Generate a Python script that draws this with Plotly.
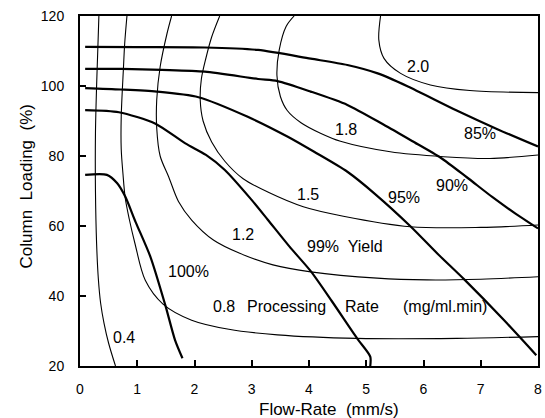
import plotly.graph_objects as go

# ---- Processing-rate contours (mg/ml.min), thin lines ----
rate_04_x = [0.33, 0.31, 0.29, 0.27, 0.27, 0.29, 0.32, 0.36, 0.42, 0.50, 0.62]
rate_04_y = [120, 110, 100, 86.5, 70, 55, 45, 38, 32.2, 26.5, 20]

rate_08_x = [0.82, 0.78, 0.76, 0.72, 0.72, 0.75, 0.79, 0.86, 0.96, 1.14, 1.45, 1.95, 2.60, 3.45, 4.84, 6.58, 8.0]
rate_08_y = [120, 112, 105.5, 91.2, 82, 75, 68, 62, 55, 44.5, 37.7, 33.1, 30.5, 28.9, 27.9, 27.9, 28.4]

rate_12_x = [1.60, 1.52, 1.40, 1.34, 1.34, 1.40, 1.55, 1.72, 1.95, 2.33, 2.79, 3.37, 4.03, 5.19, 6.06, 7.0, 8.0]
rate_12_y = [120, 115, 105.5, 96, 88, 80, 74, 67, 61.7, 56, 52.2, 48.9, 46.9, 45.1, 44.6, 44.8, 45.5]

rate_15_x = [2.44, 2.30, 2.20, 2.12, 2.10, 2.15, 2.30, 2.53, 2.85, 3.28, 3.90, 4.60, 5.77, 7.0, 8.0]
rate_15_y = [120, 114, 108, 102, 96, 90, 84, 78.5, 73.5, 69.7, 65.5, 62.8, 59.8, 59.6, 60.3]

rate_18_x = [3.74, 3.60, 3.48, 3.44, 3.50, 3.62, 3.86, 4.20, 4.55, 5.42, 6.35, 7.16, 8.0]
rate_18_y = [120, 117, 110.3, 103, 97, 93, 89.5, 86.5, 84.2, 81.2, 79.8, 79.3, 80.3]

rate_20_x = [5.25, 5.22, 5.31, 5.60, 6.12, 6.81, 8.0]
rate_20_y = [120, 113.1, 107.9, 103.6, 100.3, 98.7, 98.1]

# ---- Yield curves, thick lines ----
yield_100_x = [0.09, 0.47, 0.65, 0.79, 0.97, 1.23, 1.49, 1.66, 1.79]
yield_100_y = [74.6, 74.6, 72.2, 68.4, 61.2, 51.2, 37.4, 27.4, 22.2]

yield_99_x = [0.09, 0.68, 1.31, 1.84, 2.20, 2.53, 2.99, 3.28, 3.66, 4.03, 4.40, 4.84, 5.07, 5.07]
yield_99_y = [93.1, 92.5, 89.3, 83.6, 80.3, 76.0, 67.6, 61.8, 54.1, 47.1, 38.5, 27.9, 22.7, 20]

yield_95_x = [0.09, 0.71, 1.34, 2.07, 2.93, 3.63, 4.09, 4.67, 5.15, 5.78, 6.25, 6.72, 7.40, 7.97]
yield_95_y = [99.4, 99.0, 98.4, 96.8, 91.2, 85.5, 81.2, 75.5, 69.2, 59.8, 52.0, 44.6, 33.2, 23.1]

yield_90_x = [0.09, 0.73, 1.43, 2.18, 3.11, 3.45, 4.03, 4.67, 5.30, 5.80, 6.30, 6.75, 7.20, 7.60, 8.0]
yield_90_y = [104.9, 104.9, 104.6, 104.1, 102.0, 101.4, 98.4, 94.6, 89.0, 84.3, 79.5, 74.0, 68.3, 63.6, 59.3]

yield_85_x = [0.09, 1.0, 2.18, 3.11, 4.03, 4.67, 5.20, 5.71, 6.58, 7.30, 8.0]
yield_85_y = [111.2, 111.1, 111.0, 110.3, 107.8, 106.0, 103.6, 100.0, 93.0, 87.6, 82.7]

# ---- Curve labels ----
label_text = ["2.0", "1.8", "85%", "90%", "95%", "1.5", "1.2", "99%  Yield", "100%", "0.4"]
label_x = [5.90, 4.64, 6.99, 6.50, 5.66, 3.98, 2.84, 4.62, 1.90, 0.77]
label_y = [105.7, 87.7, 86.3, 71.7, 68.1, 69.1, 57.7, 54.1, 46.9, 28.1]

rate_words = ["0.8", "Processing", "Rate", "(mg/ml.min)"]
rate_words_x = [2.28, 2.885, 4.59, 5.60]
rate_words_y = [36.9, 36.9, 36.9, 36.9]

x_ticks = [0, 1, 2, 3, 4, 5, 6, 7, 8]
y_ticks = [20, 40, 60, 80, 100, 120]

FONT = "Liberation Sans, Arial, Helvetica, sans-serif"

fig = go.Figure()

thin = [(rate_04_x, rate_04_y), (rate_08_x, rate_08_y), (rate_12_x, rate_12_y),
        (rate_15_x, rate_15_y), (rate_18_x, rate_18_y), (rate_20_x, rate_20_y)]
thick = [(yield_100_x, yield_100_y), (yield_99_x, yield_99_y), (yield_95_x, yield_95_y),
         (yield_90_x, yield_90_y), (yield_85_x, yield_85_y)]

for xs, ys in thin:
    fig.add_trace(go.Scatter(x=xs, y=ys, mode="lines", showlegend=False,
                             line=dict(color="black", width=1.1, shape="spline", smoothing=0.9),
                             hoverinfo="skip"))
for xs, ys in thick:
    fig.add_trace(go.Scatter(x=xs, y=ys, mode="lines", showlegend=False,
                             line=dict(color="black", width=2.2, shape="spline", smoothing=0.7),
                             hoverinfo="skip"))

annotations = []
for t, x, y in zip(label_text, label_x, label_y):
    annotations.append(dict(x=x, y=y, text=t, showarrow=False, xref="x", yref="y",
                            font=dict(family=FONT, size=16, color="black")))
for t, x, y in zip(rate_words, rate_words_x, rate_words_y):
    annotations.append(dict(x=x, y=y, text=t, showarrow=False, xref="x", yref="y",
                            xanchor="left", font=dict(family=FONT, size=16, color="black")))

W, H = 545, 418
ml, mr, mt, mb = 80, 3, 16, 52
pw, ph = W - ml - mr, H - mt - mb

def px_to_paper(px, py):
    return (px - ml) / pw, 1 - (py - mt) / ph

tx, ty = px_to_paper(331, 409)
annotations.append(dict(x=tx, y=ty, xref="paper", yref="paper", text="Flow-Rate  (mm/s)",
                        xanchor="center", yanchor="middle", showarrow=False,
                        font=dict(family=FONT, size=17, color="black")))
tx, ty = px_to_paper(26, 186)
annotations.append(dict(x=tx, y=ty, xref="paper", yref="paper", text="Column  Loading  (%)",
                        xanchor="center", yanchor="middle", showarrow=False, textangle=-90,
                        font=dict(family=FONT, size=17, color="black")))

fig.update_layout(
    width=W, height=H,
    margin=dict(l=ml, r=mr, t=mt, b=mb, pad=0),
    paper_bgcolor="white", plot_bgcolor="white",
    annotations=annotations,
    xaxis=dict(range=[0, 8], tickvals=x_ticks, ticktext=[str(v) for v in x_ticks],
               ticks="inside", ticklen=6, tickwidth=1.5, tickcolor="black",
               showline=True, linewidth=2, linecolor="black", mirror=True,
               showgrid=False, zeroline=False, ticklabelstandoff=9,
               tickfont=dict(family=FONT, size=14, color="black")),
    yaxis=dict(range=[20, 120], tickvals=y_ticks, ticktext=[str(v) for v in y_ticks],
               ticks="inside", ticklen=6, tickwidth=1.5, tickcolor="black",
               showline=True, linewidth=2, linecolor="black", mirror=True,
               showgrid=False, zeroline=False, ticklabelstandoff=11,
               tickfont=dict(family=FONT, size=14, color="black")),
)

fig.write_html("out.html")
